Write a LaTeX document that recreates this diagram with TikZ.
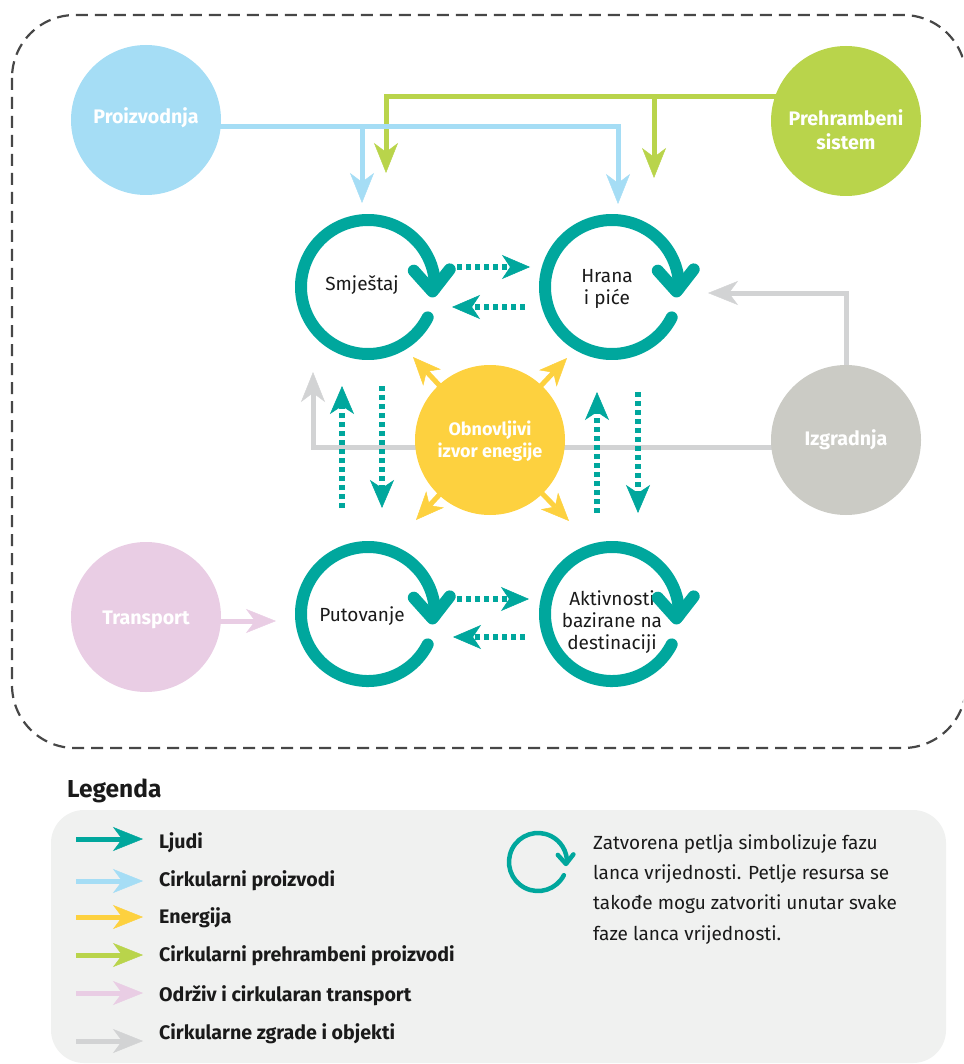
\documentclass[tikz,border=0pt]{standalone}
\usepackage{fontspec}
\setmainfont{Fira Sans}
\usetikzlibrary{arrows.meta,backgrounds,calc}
\definecolor{tealC}{HTML}{00A79D}
\definecolor{blueC}{HTML}{A5DDF5}
\definecolor{greenC}{HTML}{B9D44B}
\definecolor{grayC}{HTML}{CBCBC5}
\definecolor{grayA}{HTML}{D2D3D4}
\definecolor{pinkC}{HTML}{E9CDE4}
\definecolor{yellowC}{HTML}{FDD13F}
\definecolor{frameC}{HTML}{474747}
\definecolor{legbg}{HTML}{F0F1F0}
\definecolor{txtC}{HTML}{1A1A1A}
\newcommand\tealloop[3]{%
  \begin{scope}[shift={(#1)}, scale=#2]
    \draw[tealC, line width=#3, line cap=round] (-27:67) arc[start angle=-27, end angle=-361, radius=67];
    \draw[tealC, line width=#3, line cap=round, line join=round] (45.8,16.3) -- (64.5,-4.5) -- (81.7,17.6);
  \end{scope}}
\begin{document}
\begin{tikzpicture}[x=1pt,y=1pt,
  circ/.style={circle, minimum size=150pt, inner sep=0pt, draw=none},
  wlabel/.style={text=white, font=\bfseries\fontsize{19.6}{24}\selectfont, align=center, inner sep=0pt},
  olabel/.style={text=white, font=\bfseries\fontsize{18}{21.5}\selectfont, align=center, inner sep=0pt},
  looplabel/.style={text=txtC, font=\fontsize{19}{22}\selectfont, align=center, inner sep=0pt},
  flow/.style={line width=5pt, -{Stealth[length=30pt,width=24pt,inset=9pt,line width=0.5pt]}},
  yflow/.style={yellowC, line width=5pt, -{Stealth[length=28pt,width=24pt,inset=8pt,line width=0.5pt]}},
  dotflow/.style={tealC, line width=6pt, dash pattern=on 5pt off 4pt, -{Stealth[length=28pt,width=24pt,inset=8pt,line width=0.5pt]}},
  legtext/.style={anchor=base west, inner sep=0pt, text=txtC, font=\bfseries\fontsize{19.6}{22}\selectfont},
  desc/.style={anchor=base west, inner sep=0pt, text=txtC, font=\fontsize{19}{22}\selectfont}
]
\useasboundingbox (0,0) rectangle (963,-1064);
\clip (0,0) rectangle (963,-1064);

% dashed frame
\draw[frameC, line width=2.2pt, dash pattern=on 12pt off 7pt, rounded corners=63pt] (12,-15) rectangle (966,-748);

% big circles
\node[circ, fill=blueC] (proiz) at (146,-120) {};
\node[wlabel] (proizT) at (146,-118) {Proizvodnja};
\node[circ, fill=greenC] (preh) at (846,-121) {};
\node[wlabel] (prehT) at (846,-130) {Prehrambeni\\sistem};
\node[circ, fill=grayC] (izg) at (846,-440) {};
\node[wlabel] (izgT) at (846,-440) {Izgradnja};
\node[circ, fill=pinkC] (trans) at (146,-617) {};
\node[wlabel] (transT) at (146,-620) {Transport};
\node[circ, fill=yellowC] (obn) at (490,-440) {};
\node[olabel] (obnT) at (490,-441) {Obnovljivi\\izvor enegije};

% loop centres and labels
\coordinate (cS) at (368,-287);
\coordinate (cH) at (612,-287);
\coordinate (cP) at (368,-614);
\coordinate (cA) at (612,-614);
\node[looplabel] (smj) at (362,-285) {Smještaj};
\node[looplabel] (hrana) at (607,-289) {Hrana\\i piće};
\node[looplabel] (putov) at (362,-616) {Putovanje};
\node[looplabel] (aktiv) at (612,-622) {Aktivnosti\\bazirane na\\destinaciji};
\tealloop{cS}{1}{12pt}
\tealloop{cH}{1}{12pt}
\tealloop{cP}{1}{12pt}
\tealloop{cA}{1}{12pt}

% connectors
\begin{scope}[on background layer]
  \draw[flow, greenC] (preh.center |- 0,-97) -- (386,-97) -- (386,-173);
  \draw[flow, greenC] (654,-97) -- (654,-178);
  \draw[flow, blueC] (proiz.center |- 0,-127) -- (618,-127) -- (618,-204);
  \draw[flow, blueC] (362,-127) -- (362,-203);
  \draw[flow, grayA] (izg.center) -- (846,-293) -- (708,-293);
  \draw[flow, grayA] (izg.center |- 0,-447) -- (313,-447) -- (313,-372);
  \draw[flow, pinkC] (trans.center |- 0,-621) -- (276,-621);
  \draw[yflow] (obn.center) -- (413,-357);
  \draw[yflow] (obn.center) -- (567,-358);
  \draw[yflow] (obn.center) -- (416,-520);
  \draw[yflow] (obn.center) -- (569,-521);
  \draw[dotflow] ($(cS)+(89,20)$) -- ($(cS)+(162,20)$);
  \draw[dotflow] ($(cH)+(-87,-20)$) -- ($(cH)+(-160,-20)$);
  \draw[dotflow] ($(cP)+(89,15)$) -- ($(cP)+(161,15)$);
  \draw[dotflow] ($(cA)+(-87,-23)$) -- ($(cA)+(-159,-23)$);
  \draw[dotflow] ($(cP)+(-26,106)$) -- ($(cS)+(-26,-99)$);
  \draw[dotflow] ($(cS)+(14,-99)$) -- ($(cP)+(14,106)$);
  \draw[dotflow] ($(cA)+(-15,101)$) -- ($(cH)+(-15,-105)$);
  \draw[dotflow] ($(cH)+(26,-105)$) -- ($(cA)+(26,101)$);
\end{scope}

% legend
\fill[legbg, rounded corners=33pt] (51,-810) rectangle (946,-1063);
\node[anchor=base west, inner sep=0pt, text=txtC, font=\bfseries\fontsize{24.5}{28}\selectfont] (leg) at (67,-797) {Legenda};
\coordinate (la1) at (76,-839);
\coordinate (la2) at (76,-881);
\coordinate (la3) at (76,-917);
\coordinate (la4) at (76,-955);
\coordinate (la5) at (76,-993);
\coordinate (la6) at (76,-1041);
\draw[flow, tealC] (la1) -- ++(67,0);
\draw[flow, blueC] (la2) -- ++(67,0);
\draw[flow, yellowC] (la3) -- ++(67,0);
\draw[flow, greenC] (la4) -- ++(67,0);
\draw[flow, pinkC] (la5) -- ++(67,0);
\draw[flow, grayA] (la6) -- ++(67,0);
\node[legtext] (l1) at (159,-848.5) {Ljudi};
\node[legtext] (l2) at (159,-886.5) {Cirkularni proizvodi};
\node[legtext] (l3) at (159,-923.5) {Energija};
\node[legtext] (l4) at (159,-961.5) {Cirkularni prehrambeni proizvodi};
\node[legtext] (l5) at (159,-1001.5) {Održiv i cirkularan transport};
\node[legtext] (l6) at (159,-1039.5) {Cirkularne zgrade i objekti};

\coordinate (icon) at (538,-862);
\tealloop{icon}{0.433}{4.5pt}
\node[desc] (d1) at (593,-849) {Zatvorena petlja simbolizuje fazu};
\node[desc] (d2) at (593,-879) {lanca vrijednosti. Petlje resursa se};
\node[desc] (d3) at (593,-909.5) {takođe mogu zatvoriti unutar svake};
\node[desc] (d4) at (593,-940) {faze lanca vrijednosti.};
\end{tikzpicture}
\end{document}
